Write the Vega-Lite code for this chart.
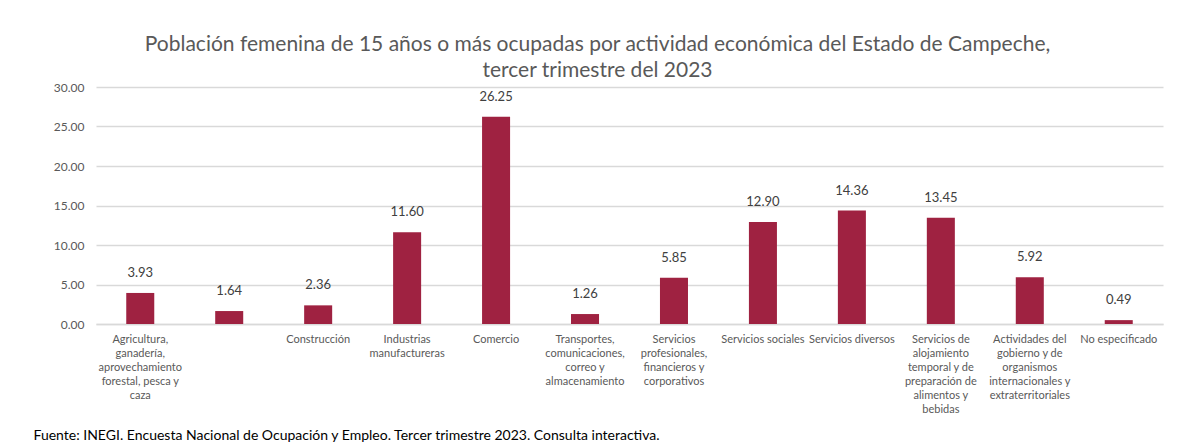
{
  "$schema": "https://vega.github.io/schema/vega-lite/v6.json",
  "autosize": "none",
  "width": 1067,
  "height": 237,
  "padding": {"left": 96, "top": 87, "right": 18, "bottom": 122},
  "background": "white",
  "title": {
    "text": ["Población femenina de 15 años o más ocupadas por actividad económica del Estado de Campeche,", "tercer trimestre del 2023"],
    "fontSize": 21,
    "font": "Lato",
    "fontWeight": "normal",
    "color": "#595959",
    "lineHeight": 26,
    "anchor": "middle",
    "dx": -32,
    "offset": 0
  },
  "data": {
    "values": [
      {"actividad": "Agricultura,|ganadería,|aprovechamiento|forestal, pesca y|caza", "valor": 3.93},
      {"actividad": " ", "valor": 1.64},
      {"actividad": "Construcción", "valor": 2.36},
      {"actividad": "Industrias|manufactureras", "valor": 11.60},
      {"actividad": "Comercio", "valor": 26.25},
      {"actividad": "Transportes,|comunicaciones,|correo y|almacenamiento", "valor": 1.26},
      {"actividad": "Servicios|profesionales,|financieros y|corporativos", "valor": 5.85},
      {"actividad": "Servicios sociales", "valor": 12.90},
      {"actividad": "Servicios diversos", "valor": 14.36},
      {"actividad": "Servicios de|alojamiento|temporal y de|preparación de|alimentos y|bebidas", "valor": 13.45},
      {"actividad": "Actividades del|gobierno y de|organismos|internacionales y|extraterritoriales", "valor": 5.92},
      {"actividad": "No especificado", "valor": 0.49}
    ]
  },
  "encoding": {
    "x": {
      "field": "actividad",
      "type": "nominal",
      "sort": null,
      "scale": {"paddingInner": 0.685, "paddingOuter": 0.34},
      "axis": {
        "title": "Fuente: INEGI. Encuesta Nacional de Ocupación y Empleo. Tercer trimestre 2023. Consulta interactiva.",
        "titleFont": "Lato",
        "titleFontSize": 14,
        "titleFontWeight": "normal",
        "titleColor": "#000000",
        "titleAnchor": "start",
        "titleAlign": "left",
        "titleBaseline": "alphabetic",
        "titleX": -63,
        "titleY": 115,
        "labelAngle": 0,
        "labelExpr": "split(datum.label, '|')",
        "labelFont": "Lato",
        "labelFontSize": 11,
        "labelColor": "#595959",
        "labelLineHeight": 14,
        "labelLimit": 0,
        "labelPadding": 9,
        "labelBaseline": "top",
        "ticks": false,
        "domainColor": "#d9d9d9",
        "domainWidth": 1.5
      }
    },
    "y": {
      "field": "valor",
      "type": "quantitative",
      "scale": {"domain": [0, 30]},
      "axis": {
        "title": null,
        "values": [0, 5, 10, 15, 20, 25, 30],
        "format": ".2f",
        "labelFont": "Lato",
        "labelFontSize": 12,
        "labelColor": "#595959",
        "labelPadding": 12,
        "ticks": false,
        "domain": false,
        "gridColor": "#d9d9d9",
        "gridWidth": 1.5
      }
    }
  },
  "layer": [
    {"mark": {"type": "bar", "color": "#9F2241"}},
    {
      "mark": {"type": "text", "dy": -13, "baseline": "bottom", "font": "Lato", "fontSize": 13, "color": "#404040"},
      "encoding": {"text": {"field": "valor", "type": "quantitative", "format": ".2f"}}
    }
  ],
  "config": {"view": {"stroke": null}}
}
